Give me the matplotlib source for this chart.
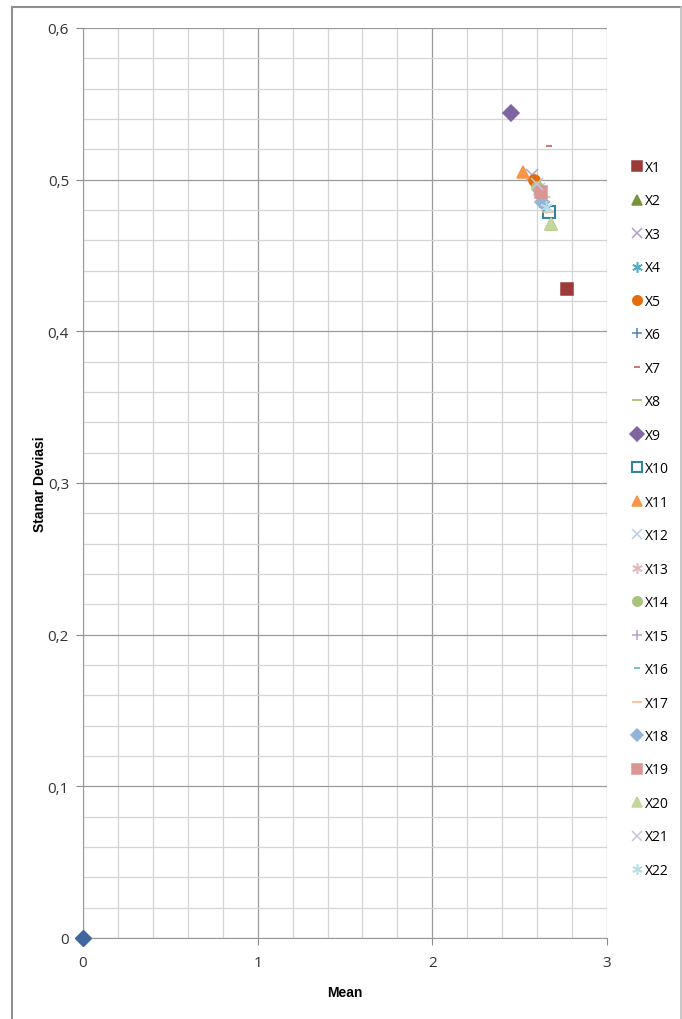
import numpy as np
import matplotlib.pyplot as plt
from matplotlib.ticker import MultipleLocator, FuncFormatter
from matplotlib.lines import Line2D

plt.rcParams['font.family'] = ['Open Sans', 'DejaVu Sans']

# series data (mean, standard deviation)
labels = ['X%d' % i for i in range(1, 23)]
mean = [2.77, 2.68, 2.57, 2.64, 2.58, 2.63, 2.67, 2.62, 2.45, 2.67, 2.52,
        2.61, 2.64, 2.60, 2.62, 2.64, 2.66, 2.63, 2.62, 2.68, 2.60, 2.65]
stdev = [0.428, 0.471, 0.503, 0.484, 0.500, 0.488, 0.522, 0.490, 0.544, 0.479, 0.505,
         0.494, 0.487, 0.495, 0.491, 0.486, 0.479, 0.485, 0.492, 0.471, 0.497, 0.482]
# first series, hidden from the legend
base_mean = [0]
base_stdev = [0]

star = (6, 2, 0)
markers = ['s', '^', 'x', star, 'o', '+', '_', '_', 'D', 's', '^',
           'x', star, 'o', '+', '_', '_', 'D', 's', '^', 'x', star]
colors = ['#9B3A38', '#77933C', '#B3A2C7', '#4BACC6', '#E46C0A', '#4F81BD', '#C0504D',
          '#9BBB59', '#8064A2', '#31859C', '#F79646',
          '#B9CDE5', '#E6B9B8', '#A9C47F', '#B3A2C7', '#4BACC6', '#FAB385', '#95B3D7',
          '#D99694', '#C3D69B', '#CCC1DA', '#B7DEE8']
sizes = [9, 8, 8, 9, 8, 9, 5, 8, 8, 9, 9, 8, 9, 8, 9, 5, 8, 7, 9, 9, 8, 9]
hollow = [False] * 22
hollow[9] = True

fig = plt.figure(figsize=(6.82, 10.2), dpi=100)
ax = fig.add_axes([83 / 682, 81 / 1020, 524 / 682, 910 / 1020])

ax.plot(base_mean, base_stdev, linestyle='none', marker='D', markersize=8,
        color='#3E67A0', clip_on=False, zorder=5)

for i in range(len(labels)):
    mfc = 'none' if hollow[i] else colors[i]
    ax.plot(mean[i], stdev[i], linestyle='none', marker=markers[i], markersize=sizes[i],
            color=colors[i], markerfacecolor=mfc, markeredgewidth=1.5 if hollow[i] else 1.1,
            label=labels[i], zorder=4)

ax.set_xlim(0, 3)
ax.set_ylim(0, 0.6)
ax.xaxis.set_major_locator(MultipleLocator(1))
ax.xaxis.set_minor_locator(MultipleLocator(0.2))
ax.yaxis.set_major_locator(MultipleLocator(0.1))
ax.yaxis.set_minor_locator(MultipleLocator(0.02))
ax.grid(which='major', color='#9a9a9a', linewidth=0.9)
ax.grid(which='minor', color='#d4d4d4', linewidth=0.9)
ax.set_axisbelow(True)

fmt = FuncFormatter(lambda v, p: ('%g' % round(v, 2)).replace('.', ','))
ax.xaxis.set_major_formatter(fmt)
ax.yaxis.set_major_formatter(fmt)
ax.tick_params(which='major', length=5, color='#8a8a8a', labelsize=11, labelcolor='#333333')
ax.tick_params(which='minor', length=0)
ax.tick_params(axis='x', pad=7)
ax.tick_params(axis='y', pad=5)

for side in ['top', 'right']:
    ax.spines[side].set_visible(False)
for side in ['left', 'bottom']:
    ax.spines[side].set_color('#9a9a9a')

ax.set_xlabel('Mean', fontsize=10, fontweight='bold', family=['Liberation Sans', 'DejaVu Sans'], va='center')
ax.set_ylabel('Stanar Deviasi', fontsize=10, fontweight='bold', family=['Liberation Sans', 'DejaVu Sans'], va='center')
ax.xaxis.set_label_coords((345 - 83) / 524, (939 - 993) / 910)
ax.yaxis.set_label_coords((40 - 83) / 524, (939 - 484) / 910)

leg = ax.legend(loc='upper left', bbox_to_anchor=(626 / 682, 1 - 154 / 1020),
                bbox_transform=fig.transFigure, frameon=False, fontsize=10,
                handlelength=0.6, handletextpad=0.3, labelspacing=1.33, borderpad=0,
                markerscale=0.85)

# outer chart border
fig.add_artist(Line2D([12 / 682, 12 / 682], [0, 1 - 8 / 1020], color='#8f8f8f', lw=1.5))
fig.add_artist(Line2D([12 / 682, 681 / 682], [1 - 8 / 1020, 1 - 8 / 1020], color='#8f8f8f', lw=1.5))
fig.add_artist(Line2D([681 / 682, 681 / 682], [0, 1 - 8 / 1020], color='#bdbdbd', lw=1.2))

fig.savefig('out.png', dpi=100)
